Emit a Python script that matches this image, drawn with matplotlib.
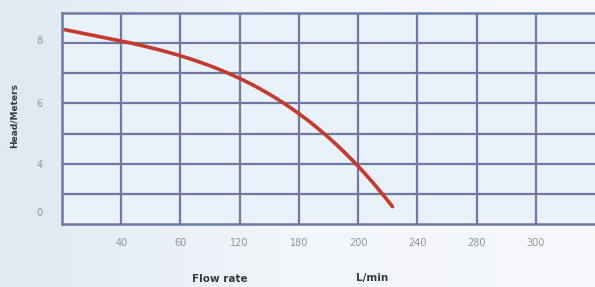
import matplotlib
matplotlib.use("Agg")
import matplotlib.pyplot as plt
import numpy as np

# Curve data (x in grid units, head in meters)
flow_units = [0.05, 1.0, 2.0, 3.0, 3.5, 4.0, 4.5, 5.0, 5.3, 5.58]
head_m = [8.43, 8.10, 7.60, 6.80, 6.27, 5.67, 4.85, 4.00, 3.30, 2.50]

x_tick_pos = [1, 2, 3, 4, 5, 6, 7, 8]
x_tick_labels = ["40", "60", "120", "180", "200", "240", "280", "300"]
y_tick_pos = [8.1, 6, 4, 2.4]
y_tick_labels = ["8", "6", "4", "0"]
x_grid = [1, 2, 3, 4, 5, 6, 7, 8]
y_grid = [3, 4, 5, 6, 7, 8]

fig = plt.figure(figsize=(5.95, 2.87), dpi=100)
fig.patch.set_facecolor("#eef3f8")
# soft background gradient
bg = fig.add_axes([0, 0, 1, 1], zorder=-10)
grad = np.linspace(0, 1, 256)
img = np.outer(np.ones(64), grad)
from matplotlib.colors import LinearSegmentedColormap
cm = LinearSegmentedColormap.from_list("bg", ["#dfe9f2", "#f3f6fa", "#f6f8fb"])
bg.imshow(img, aspect="auto", cmap=cm, extent=[0, 1, 0, 1])
bg.axis("off")

ax = fig.add_axes([62/595, 1 - 224/287, 1 - 62/595, (224 - 13)/287])
ax.set_facecolor("#e9f1fb")
ax.set_xlim(0, 9)
ax.set_ylim(2, 9)

grid_col = "#6d7aa3"
for g in x_grid:
    ax.axvline(g, color=grid_col, lw=1.6, zorder=1)
for g in y_grid:
    ax.axhline(g, color=grid_col, lw=1.6, zorder=1)

for s in ["left", "bottom", "top"]:
    ax.spines[s].set_color(grid_col)
    ax.spines[s].set_linewidth(1.8)
ax.spines["right"].set_visible(False)

# smooth curve through points
xs = np.array(flow_units)
ys = np.array(head_m)
coef = np.polyfit(xs, ys, 3)
xf = np.linspace(xs[0], xs[-1], 200)
ax.plot(xf, np.polyval(coef, xf), color="#c63a2c", lw=2.6, solid_capstyle="round", zorder=3)

ax.set_xticks(x_tick_pos)
ax.set_xticklabels(x_tick_labels)
ax.set_yticks(y_tick_pos)
ax.set_yticklabels(y_tick_labels)
ax.tick_params(axis="both", length=0, labelsize=7, labelcolor="#8d939c")
ax.tick_params(axis="x", pad=10)
ax.tick_params(axis="y", pad=14)

fig.text(14/595, 1 - 115/287, "Head/Meters", rotation=90, ha="center", va="center",
         fontsize=6.5, fontweight="bold", color="#333a44")
fig.text(220/595, 1 - 279/287, "Flow rate", ha="center", va="center",
         fontsize=7.5, fontweight="bold", color="#333a44")
fig.text(372/595, 1 - 278/287, "L/min", ha="center", va="center",
         fontsize=7.5, fontweight="bold", color="#333a44")

fig.savefig("out.png", dpi=100, facecolor=fig.get_facecolor())
